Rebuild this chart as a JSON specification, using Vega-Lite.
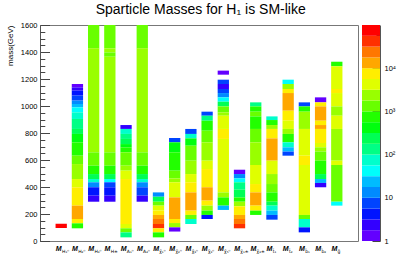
{
"$schema": "https://vega.github.io/schema/vega-lite/v6.json",
"background": "white",
"padding": {"left": 5, "top": 2, "right": 2, "bottom": 2},
"title": {"text": "Sparticle Masses for H₁ is SM-like", "fontSize": 14, "font": "Liberation Sans", "fontWeight": "normal", "color": "#000", "anchor": "middle", "frame": "bounds", "offset": 4},
"config": {
  "view": {"stroke": "#777", "strokeWidth": 1},
  "axis": {"grid": false, "labelFont": "Liberation Sans", "titleFont": "Liberation Sans", "labelColor": "#000", "titleColor": "#000", "domainColor": "#555", "tickColor": "#444"}
},
"datasets": {
"cells": [
{"c":1,"lo":96,"hi":128,"v":75000},
{"c":2,"lo":1138,"hi":1163,"v":1},{"c":2,"lo":1114,"hi":1138,"v":2},{"c":2,"lo":1077,"hi":1114,"v":4},{"c":2,"lo":1040,"hi":1077,"v":7},{"c":2,"lo":1015,"hi":1040,"v":13},{"c":2,"lo":990,"hi":1015,"v":24},{"c":2,"lo":953,"hi":990,"v":42},{"c":2,"lo":904,"hi":953,"v":75},{"c":2,"lo":830,"hi":904,"v":133},{"c":2,"lo":793,"hi":830,"v":237},{"c":2,"lo":731,"hi":793,"v":420},{"c":2,"lo":632,"hi":731,"v":750},{"c":2,"lo":570,"hi":632,"v":1330},{"c":2,"lo":459,"hi":570,"v":2370},{"c":2,"lo":398,"hi":459,"v":4200},{"c":2,"lo":262,"hi":398,"v":7500},{"c":2,"lo":163,"hi":262,"v":13300},{"c":2,"lo":131,"hi":163,"v":7500},{"c":2,"lo":94,"hi":131,"v":750},
{"c":3,"lo":1427,"hi":1600,"v":1330},{"c":3,"lo":657,"hi":1427,"v":2370},{"c":3,"lo":558,"hi":657,"v":1330},{"c":3,"lo":496,"hi":558,"v":750},{"c":3,"lo":459,"hi":496,"v":237},{"c":3,"lo":435,"hi":459,"v":75},{"c":3,"lo":398,"hi":435,"v":13},{"c":3,"lo":336,"hi":398,"v":4},{"c":3,"lo":291,"hi":336,"v":2},
{"c":4,"lo":1427,"hi":1600,"v":1330},{"c":4,"lo":1397,"hi":1427,"v":2370},{"c":4,"lo":1365,"hi":1397,"v":1330},{"c":4,"lo":657,"hi":1365,"v":2370},{"c":4,"lo":558,"hi":657,"v":1330},{"c":4,"lo":496,"hi":558,"v":750},{"c":4,"lo":459,"hi":496,"v":237},{"c":4,"lo":435,"hi":459,"v":42},{"c":4,"lo":398,"hi":435,"v":7},{"c":4,"lo":336,"hi":398,"v":4},{"c":4,"lo":291,"hi":336,"v":2},
{"c":5,"lo":830,"hi":859,"v":2},{"c":5,"lo":793,"hi":830,"v":75},{"c":5,"lo":756,"hi":793,"v":133},{"c":5,"lo":718,"hi":756,"v":237},{"c":5,"lo":694,"hi":718,"v":420},{"c":5,"lo":657,"hi":694,"v":750},{"c":5,"lo":558,"hi":657,"v":1330},{"c":5,"lo":521,"hi":558,"v":2370},{"c":5,"lo":459,"hi":521,"v":4200},{"c":5,"lo":126,"hi":459,"v":7500},{"c":5,"lo":94,"hi":126,"v":4200},{"c":5,"lo":64,"hi":94,"v":1330},{"c":5,"lo":27,"hi":64,"v":133},
{"c":6,"lo":1427,"hi":1600,"v":1330},{"c":6,"lo":657,"hi":1427,"v":2370},{"c":6,"lo":558,"hi":657,"v":1330},{"c":6,"lo":496,"hi":558,"v":750},{"c":6,"lo":459,"hi":496,"v":237},{"c":6,"lo":435,"hi":459,"v":75},{"c":6,"lo":398,"hi":435,"v":13},{"c":6,"lo":336,"hi":398,"v":7},{"c":6,"lo":291,"hi":336,"v":2},
{"c":7,"lo":328,"hi":360,"v":13},{"c":7,"lo":291,"hi":328,"v":237},{"c":7,"lo":262,"hi":291,"v":1330},{"c":7,"lo":225,"hi":262,"v":4200},{"c":7,"lo":193,"hi":225,"v":7500},{"c":7,"lo":163,"hi":193,"v":13300},{"c":7,"lo":126,"hi":163,"v":23700},{"c":7,"lo":94,"hi":126,"v":42000},{"c":7,"lo":64,"hi":94,"v":7500},{"c":7,"lo":27,"hi":64,"v":750},
{"c":8,"lo":731,"hi":763,"v":7},{"c":8,"lo":657,"hi":731,"v":420},{"c":8,"lo":521,"hi":657,"v":750},{"c":8,"lo":464,"hi":521,"v":1330},{"c":8,"lo":435,"hi":464,"v":2370},{"c":8,"lo":323,"hi":435,"v":4200},{"c":8,"lo":163,"hi":323,"v":13300},{"c":8,"lo":133,"hi":163,"v":7500},{"c":8,"lo":101,"hi":133,"v":2370},{"c":8,"lo":70,"hi":101,"v":1},
{"c":9,"lo":793,"hi":830,"v":7},{"c":9,"lo":760,"hi":793,"v":75},{"c":9,"lo":706,"hi":760,"v":420},{"c":9,"lo":595,"hi":706,"v":1330},{"c":9,"lo":496,"hi":595,"v":2370},{"c":9,"lo":435,"hi":496,"v":4200},{"c":9,"lo":360,"hi":435,"v":7500},{"c":9,"lo":225,"hi":360,"v":13300},{"c":9,"lo":193,"hi":225,"v":7500},{"c":9,"lo":163,"hi":193,"v":1330},{"c":9,"lo":126,"hi":163,"v":75},
{"c":10,"lo":928,"hi":958,"v":7},{"c":10,"lo":891,"hi":928,"v":133},{"c":10,"lo":817,"hi":891,"v":750},{"c":10,"lo":731,"hi":817,"v":1330},{"c":10,"lo":595,"hi":731,"v":2370},{"c":10,"lo":533,"hi":595,"v":4200},{"c":10,"lo":398,"hi":533,"v":7500},{"c":10,"lo":299,"hi":398,"v":13300},{"c":10,"lo":262,"hi":299,"v":7500},{"c":10,"lo":225,"hi":262,"v":2370},{"c":10,"lo":193,"hi":225,"v":750},{"c":10,"lo":163,"hi":193,"v":4},
{"c":11,"lo":1232,"hi":1262,"v":1},{"c":11,"lo":1163,"hi":1195,"v":7},{"c":11,"lo":1126,"hi":1163,"v":2},{"c":11,"lo":1096,"hi":1126,"v":7},{"c":11,"lo":1064,"hi":1096,"v":13},{"c":11,"lo":1032,"hi":1064,"v":42},{"c":11,"lo":997,"hi":1032,"v":237},{"c":11,"lo":953,"hi":997,"v":1330},{"c":11,"lo":928,"hi":953,"v":2370},{"c":11,"lo":830,"hi":928,"v":4200},{"c":11,"lo":756,"hi":830,"v":7500},{"c":11,"lo":360,"hi":756,"v":4200},{"c":11,"lo":323,"hi":360,"v":2370},{"c":11,"lo":262,"hi":323,"v":750},{"c":11,"lo":230,"hi":262,"v":24},
{"c":12,"lo":496,"hi":528,"v":1},{"c":12,"lo":464,"hi":496,"v":13},{"c":12,"lo":435,"hi":464,"v":42},{"c":12,"lo":380,"hi":435,"v":133},{"c":12,"lo":323,"hi":380,"v":237},{"c":12,"lo":291,"hi":323,"v":750},{"c":12,"lo":257,"hi":291,"v":2370},{"c":12,"lo":193,"hi":257,"v":7500},{"c":12,"lo":163,"hi":193,"v":13300},{"c":12,"lo":126,"hi":163,"v":23700},{"c":12,"lo":94,"hi":126,"v":42000},
{"c":13,"lo":997,"hi":1027,"v":133},{"c":13,"lo":958,"hi":997,"v":750},{"c":13,"lo":923,"hi":958,"v":1330},{"c":13,"lo":830,"hi":923,"v":750},{"c":13,"lo":731,"hi":830,"v":1330},{"c":13,"lo":563,"hi":731,"v":2370},{"c":13,"lo":422,"hi":563,"v":4200},{"c":13,"lo":360,"hi":422,"v":7500},{"c":13,"lo":262,"hi":360,"v":13300},{"c":13,"lo":225,"hi":262,"v":7500},{"c":13,"lo":193,"hi":225,"v":750},
{"c":14,"lo":896,"hi":923,"v":75},{"c":14,"lo":859,"hi":896,"v":750},{"c":14,"lo":830,"hi":859,"v":2370},{"c":14,"lo":760,"hi":830,"v":7500},{"c":14,"lo":595,"hi":760,"v":13300},{"c":14,"lo":496,"hi":595,"v":4200},{"c":14,"lo":422,"hi":496,"v":2370},{"c":14,"lo":360,"hi":422,"v":1330},{"c":14,"lo":291,"hi":360,"v":750},{"c":14,"lo":262,"hi":291,"v":237},{"c":14,"lo":225,"hi":262,"v":75},{"c":14,"lo":193,"hi":225,"v":24},{"c":14,"lo":158,"hi":193,"v":7},
{"c":15,"lo":1163,"hi":1195,"v":42},{"c":15,"lo":1126,"hi":1163,"v":2370},{"c":15,"lo":1096,"hi":1126,"v":7500},{"c":15,"lo":965,"hi":1096,"v":13300},{"c":15,"lo":891,"hi":965,"v":7500},{"c":15,"lo":830,"hi":891,"v":4200},{"c":15,"lo":793,"hi":830,"v":2370},{"c":15,"lo":731,"hi":793,"v":750},{"c":15,"lo":694,"hi":731,"v":75},{"c":15,"lo":662,"hi":694,"v":24},{"c":15,"lo":632,"hi":662,"v":7},
{"c":16,"lo":997,"hi":1027,"v":7},{"c":16,"lo":958,"hi":997,"v":750},{"c":16,"lo":830,"hi":958,"v":2370},{"c":16,"lo":632,"hi":830,"v":4200},{"c":16,"lo":563,"hi":632,"v":7500},{"c":16,"lo":193,"hi":563,"v":4200},{"c":16,"lo":163,"hi":193,"v":1330},{"c":16,"lo":101,"hi":163,"v":75},{"c":16,"lo":64,"hi":101,"v":4},
{"c":17,"lo":1027,"hi":1064,"v":1},{"c":17,"lo":997,"hi":1027,"v":7500},{"c":17,"lo":891,"hi":997,"v":13300},{"c":17,"lo":859,"hi":891,"v":7500},{"c":17,"lo":830,"hi":859,"v":13300},{"c":17,"lo":726,"hi":830,"v":7500},{"c":17,"lo":694,"hi":726,"v":4200},{"c":17,"lo":662,"hi":694,"v":2370},{"c":17,"lo":595,"hi":662,"v":1330},{"c":17,"lo":496,"hi":595,"v":750},{"c":17,"lo":459,"hi":496,"v":237},{"c":17,"lo":430,"hi":459,"v":24},{"c":17,"lo":398,"hi":430,"v":2},
{"c":18,"lo":1294,"hi":1328,"v":750},{"c":18,"lo":1126,"hi":1294,"v":4200},{"c":18,"lo":1096,"hi":1126,"v":7500},{"c":18,"lo":997,"hi":1096,"v":4200},{"c":18,"lo":928,"hi":997,"v":2370},{"c":18,"lo":830,"hi":928,"v":4200},{"c":18,"lo":595,"hi":830,"v":2370},{"c":18,"lo":563,"hi":595,"v":4200},{"c":18,"lo":291,"hi":563,"v":1330},{"c":18,"lo":262,"hi":291,"v":42}
],
"cats": [
{"c":1,"sub":"H₁⁰"},{"c":2,"sub":"H₂⁰"},{"c":3,"sub":"H₃⁰"},{"c":4,"sub":"H±"},{"c":5,"sub":"A₁⁰"},{"c":6,"sub":"A₂⁰"},{"c":7,"sub":"χ̃₁⁰"},{"c":8,"sub":"χ̃₂⁰"},{"c":9,"sub":"χ̃₃⁰"},{"c":10,"sub":"χ̃₄⁰"},{"c":11,"sub":"χ̃₅⁰"},{"c":12,"sub":"χ̃₁±"},{"c":13,"sub":"χ̃₂±"},{"c":14,"sub":"t̃₁"},{"c":15,"sub":"t̃₂"},{"c":16,"sub":"b̃₁"},{"c":17,"sub":"b̃₂"},{"c":18,"sub":"g̃"}
],
"bands": [
{"lo":1,"hi":1.7783,"v":1},{"lo":1.7783,"hi":3.1623,"v":2},{"lo":3.1623,"hi":5.6234,"v":4},{"lo":5.6234,"hi":10,"v":7},{"lo":10,"hi":17.783,"v":13},{"lo":17.783,"hi":31.623,"v":24},{"lo":31.623,"hi":56.234,"v":42},{"lo":56.234,"hi":100,"v":75},{"lo":100,"hi":177.83,"v":133},{"lo":177.83,"hi":316.23,"v":237},{"lo":316.23,"hi":562.34,"v":420},{"lo":562.34,"hi":1000,"v":750},{"lo":1000,"hi":1778.3,"v":1330},{"lo":1778.3,"hi":3162.3,"v":2370},{"lo":3162.3,"hi":5623.4,"v":4200},{"lo":5623.4,"hi":10000,"v":7500},{"lo":10000,"hi":17783,"v":13300},{"lo":17783,"hi":31623,"v":23700},{"lo":31623,"hi":56234,"v":42000},{"lo":56234,"hi":100000,"v":75000}
]
},
"spacing": 3,
"hconcat": [
{
  "width": 318, "height": 216,
  "layer": [
    {
      "data": {"name": "cells"},
      "mark": {"type": "bar", "width": 11.3},
      "encoding": {
        "x": {"field": "c", "type": "quantitative", "scale": {"domain": [0, 19], "nice": false, "zero": false},
              "axis": {"values": [0,0.5,1,1.5,2,2.5,3,3.5,4,4.5,5,5.5,6,6.5,7,7.5,8,8.5,9,9.5,10,10.5,11,11.5,12,12.5,13,13.5,14,14.5,15,15.5,16,16.5,17,17.5,18,18.5,19], "labels": false, "tickSize": -3.2, "title": null}},
        "y": {"field": "lo", "type": "quantitative", "scale": {"domain": [0, 1600], "nice": false, "zero": true},
              "axis": {"values": [0,200,400,600,800,1000,1200,1400,1600],
                       "format": "d", "tickSize": -9.5,
                       "labelPadding": 12.5, "labelFontSize": 7.5, "labelOverlap": false,
                       "title": "mass(GeV)", "titleFontSize": 8, "titleFontWeight": "normal", "titleAnchor": "end", "titlePadding": 6}},
        "y2": {"field": "hi"},
        "color": {"field": "v", "type": "quantitative", "legend": null,
                  "scale": {"type": "threshold", "domain": [1.7783,3.1623,5.6234,10,17.783,31.623,56.234,100,177.83,316.23,562.34,1000,1778.3,3162.3,5623.4,10000,17783,31623,56234],
                            "range": ["#6300ff","#3300ff","#0014ff","#0044ff","#008bff","#00bbff","#00fffb","#00ffcc","#00ff85","#00ff55","#00ff0e","#22ff00","#69ff00","#99ff00","#e0ff00","#ffee00","#ffa700","#ff7700","#ff3000","#ff0000"]}}
      }
    },
    {
      "data": {"name": "cells"},
      "mark": {"type": "tick", "opacity": 0},
      "encoding": {
        "y": {"field": "lo", "type": "quantitative",
              "axis": {"values": [0,50,100,150,250,300,350,450,500,550,650,700,750,850,900,950,1050,1100,1150,1250,1300,1350,1450,1500,1550], "labels": false, "domain": false, "tickSize": -4.8, "title": null, "orient": "left"}}
      }
    },
    {
      "data": {"name": "cats"},
      "mark": {"type": "text", "text": "M", "font": "Liberation Sans", "fontSize": 7, "fontWeight": "bold", "fontStyle": "italic", "align": "right", "baseline": "middle", "dy": 8, "dx": 0.5, "color": "#000"},
      "encoding": {"x": {"field": "c", "type": "quantitative", "axis": null}, "y": {"datum": 0, "axis": null}}
    },
    {
      "data": {"name": "cats"},
      "mark": {"type": "text", "font": "DejaVu Sans", "fontSize": 4.5, "align": "left", "baseline": "middle", "dy": 11, "dx": 0.8, "color": "#000"},
      "encoding": {"x": {"field": "c", "type": "quantitative", "axis": null}, "y": {"datum": 0, "axis": null}, "text": {"field": "sub"}}
    }
  ],
  "resolve": {"axis": {"y": "independent"}}
},
{
  "width": 18, "height": 216,
  "data": {"name": "bands"},
  "view": {"stroke": null},
  "mark": {"type": "rect"},
  "encoding": {
    "y": {"field": "lo", "type": "quantitative", "scale": {"type": "log", "domain": [1, 100000], "nice": false},
          "axis": {"orient": "right", "title": null,
                   "values": [1,2,3,4,5,6,7,8,9,10,20,30,40,50,60,70,80,90,100,200,300,400,500,600,700,800,900,1000,2000,3000,4000,5000,6000,7000,8000,9000,10000,20000,30000,40000,50000,60000,70000,80000,90000],
                   "labelExpr": "datum.value == 1 ? '1' : datum.value == 10 ? '10' : datum.value == 100 ? '10²' : datum.value == 1000 ? '10³' : datum.value == 10000 ? '10⁴' : ''",
                   "tickSize": {"condition": {"test": "indexof([1,10,100,1000,10000], datum.value) >= 0", "value": -8}, "value": -4},
                   "labelPadding": 12, "labelFontSize": 7.5, "labelOverlap": false, "domainColor": "#555"}},
    "y2": {"field": "hi"},
    "color": {"field": "v", "type": "quantitative", "legend": null,
              "scale": {"type": "threshold", "domain": [1.7783,3.1623,5.6234,10,17.783,31.623,56.234,100,177.83,316.23,562.34,1000,1778.3,3162.3,5623.4,10000,17783,31623,56234],
                        "range": ["#6300ff","#3300ff","#0014ff","#0044ff","#008bff","#00bbff","#00fffb","#00ffcc","#00ff85","#00ff55","#00ff0e","#22ff00","#69ff00","#99ff00","#e0ff00","#ffee00","#ffa700","#ff7700","#ff3000","#ff0000"]}}
  }
}
]
}
